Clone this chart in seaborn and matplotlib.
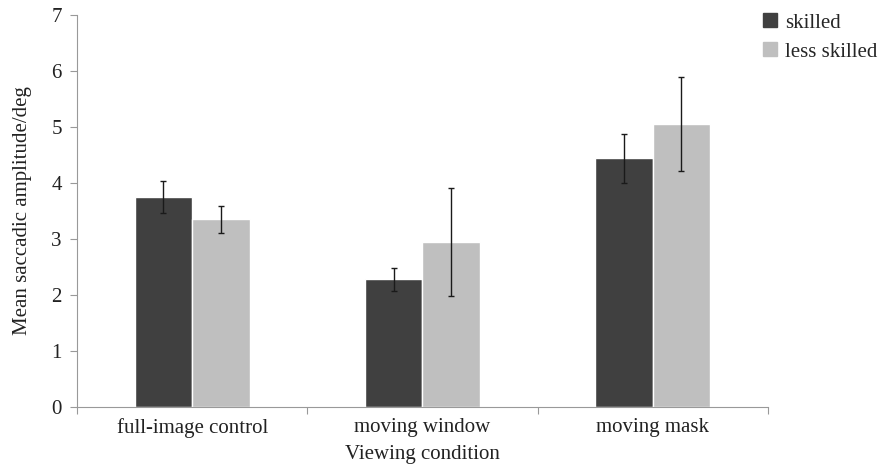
import matplotlib
matplotlib.use("Agg")
import matplotlib.pyplot as plt
from matplotlib.lines import Line2D
import seaborn as sns
import pandas as pd

conditions = ["full-image control", "moving window", "moving mask"]
groups = ["skilled", "less skilled"]
skilled_mean = [3.75, 2.28, 4.44]
skilled_err = [0.29, 0.20, 0.44]
less_mean = [3.35, 2.95, 5.05]
less_err = [0.24, 0.96, 0.84]
colors = ["#404040", "#bfbfbf"]

df = pd.DataFrame({
    "condition": conditions * 2,
    "group": [groups[0]] * 3 + [groups[1]] * 3,
    "amplitude": skilled_mean + less_mean,
})
errs = {groups[0]: skilled_err, groups[1]: less_err}

sns.set_theme(style="white")
plt.rcParams["font.family"] = ["Liberation Serif", "DejaVu Serif"]

FS = 15
fig = plt.figure(figsize=(8.8, 4.68), dpi=100)
ax = fig.add_axes([0.0875, 0.1303, 0.785, 0.8377])

sns.barplot(data=df, x="condition", y="amplitude", hue="group",
            order=conditions, hue_order=groups, palette=colors,
            width=0.5, errorbar=None, saturation=1, ax=ax, legend=False)

# error bars placed at the centres of the drawn bars
for container, g in zip(ax.containers, groups):
    for patch, e in zip(container.patches, errs[g]):
        xc = patch.get_x() + patch.get_width() / 2
        ax.errorbar(xc, patch.get_height(), yerr=e, fmt="none",
                    ecolor="#1a1a1a", elinewidth=1.0, capsize=2.2, capthick=1.0)

ax.set_ylim(0, 7)
ax.set_xlim(-0.5, 2.5)
ax.set_yticks(range(0, 8))
ax.set_xticks(range(3))
ax.set_xticklabels(conditions)
ax.set_xticks([-0.5, 0.5, 1.5, 2.5], minor=True)
ax.tick_params(axis="x", which="major", length=0, labelsize=FS, pad=8, colors="#222222")
ax.tick_params(axis="x", which="minor", length=5, color="#999999", width=0.8, bottom=True)
ax.tick_params(axis="y", length=5, color="#999999", width=0.8, labelsize=FS, left=True,
               labelcolor="#222222", pad=6)

for side in ["top", "right"]:
    ax.spines[side].set_visible(False)
for side in ["left", "bottom"]:
    ax.spines[side].set_color("#999999")
    ax.spines[side].set_linewidth(0.8)

ax.set_xlabel("Viewing condition", fontsize=FS, color="#222222", labelpad=5)
ax.set_ylabel("Mean saccadic amplitude/deg", fontsize=FS, color="#222222", labelpad=14)

handles = [Line2D([], [], marker="s", linestyle="none", markersize=10,
                  markerfacecolor=c, markeredgecolor=c) for c in colors]
fig.legend(handles, groups, loc="upper left", bbox_to_anchor=(0.847, 1.003),
           frameon=False, fontsize=FS, handletextpad=0.2, labelspacing=0.45,
           borderaxespad=0.3, handlelength=1.0)

fig.savefig("out.png", dpi=100)
